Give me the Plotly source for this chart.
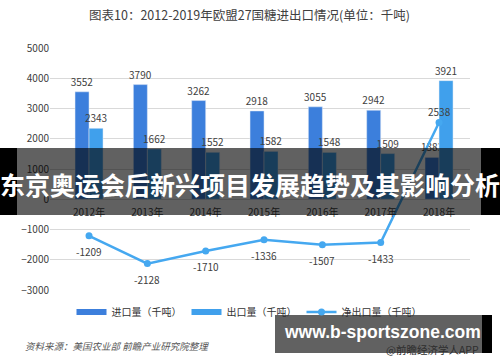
import plotly.graph_objects as go

years = ["2012年", "2013年", "2014年", "2015年", "2016年", "2017年", "2018年"]
imports = [3552, 3790, 3262, 2918, 3055, 2942, 1383]
exports = [2343, 1662, 1552, 1582, 1548, 1509, 3921]
net_exports = [-1209, -2128, -1710, -1336, -1507, -1433, 2538]

C_IMP = "#3c7fdc"
C_EXP = "#40a0ec"
C_NET = "#45a8f0"
TXT = "#404040"
FONT = "Noto Sans CJK SC, Microsoft YaHei, sans-serif"

W, H = 500, 362
L, R, T, B = 50, 30, 48, 72
PW, PH = W - L - R, H - T - B


def px(x):
    return (x - L) / PW


def py(y):
    return (H - B - y) / PH


fig = go.Figure()
fig.add_trace(go.Bar(x=years, y=imports, name="进口量（千吨）", marker_color=C_IMP,
                     text=imports, textposition="outside", constraintext="none",
                     textfont=dict(size=10, color=TXT), cliponaxis=False, showlegend=False))
fig.add_trace(go.Bar(x=years, y=exports, name="出口量（千吨）", marker_color=C_EXP,
                     text=exports, textposition="outside", constraintext="none",
                     textfont=dict(size=10, color=TXT), cliponaxis=False, showlegend=False))
# legend-only entries with wide swatches
fig.add_trace(go.Scatter(x=[None], y=[None], mode="lines", name="进口量（千吨）",
                         line=dict(color=C_IMP, width=6)))
fig.add_trace(go.Scatter(x=[None], y=[None], mode="lines", name="出口量（千吨）",
                         line=dict(color=C_EXP, width=6)))
fig.add_trace(go.Scatter(x=years, y=net_exports, name="净出口量（千吨）",
                         mode="lines+markers",
                         line=dict(color=C_NET, width=2.5),
                         marker=dict(color=C_NET, size=7), cliponaxis=False))

fig.update_layout(
    width=W, height=H, margin=dict(l=L, r=R, t=T, b=B),
    paper_bgcolor="white", plot_bgcolor="white",
    font=dict(family=FONT, color=TXT, size=10),
    barmode="group", bargap=0.52, bargroupgap=0,
    xaxis=dict(type="category", range=[-0.669, 6.531], anchor="free", position=0.375,
               showgrid=False, showline=False, ticks="", zeroline=False,
               ticklabelstandoff=6,
               tickfont=dict(size=10, color=TXT)),
    yaxis=dict(range=[-3000, 5000], dtick=1000, gridcolor="#d9d9d9", gridwidth=1,
               zeroline=True, zerolinecolor="#d9d9d9", zerolinewidth=1,
               ticks="", tickfont=dict(size=10, color=TXT)),
    legend=dict(orientation="h", x=px(249), xanchor="center", y=py(312), yanchor="middle",
                font=dict(size=10, color="#333"), itemwidth=30, bgcolor="rgba(0,0,0,0)",
                traceorder="normal"),
    showlegend=True,
)

shapes = []
# middle banner
shapes.append(dict(type="rect", xref="paper", yref="paper", layer="above", line_width=0,
                   x0=px(0), x1=px(17), y0=py(148), y1=py(215), fillcolor="black"))
shapes.append(dict(type="rect", xref="paper", yref="paper", layer="above", line_width=0,
                   x0=px(481), x1=px(500), y0=py(148), y1=py(215), fillcolor="black"))
shapes.append(dict(type="rect", xref="paper", yref="paper", layer="above", line_width=0,
                   x0=px(17), x1=px(481), y0=py(148), y1=py(215), fillcolor="rgba(0,0,0,0.62)"))
# bottom-right watermark box
shapes.append(dict(type="rect", xref="paper", yref="paper", layer="above", line_width=0,
                   x0=px(275), x1=px(482), y0=py(315), y1=py(353), fillcolor="rgba(0,0,0,0.62)"))
shapes.append(dict(type="rect", xref="paper", yref="paper", layer="above", line_width=0,
                   x0=px(482), x1=px(492), y0=py(315), y1=py(353), fillcolor="black"))
fig.update_layout(shapes=shapes)

ann = []
# net-export data labels (below points, above for positive value)
for yr, v in zip(years, net_exports):
    ann.append(dict(x=yr, y=v, xref="x", yref="y", text=str(v), showarrow=False,
                    xanchor="center", yanchor="middle",
                    yshift=(11 if v > 0 else -16),
                    font=dict(size=10, color=TXT)))
ann.append(dict(text="图表10：2012-2019年欧盟27国糖进出口情况(单位：千吨)",
                xref="paper", yref="paper", x=px(249), y=py(15), xanchor="center",
                yanchor="middle", showarrow=False, font=dict(size=12.5, color=TXT)))
ann.append(dict(text="<i>资料来源：美国农业部 前瞻产业研究院整理</i>",
                xref="paper", yref="paper", x=px(23), y=py(346), xanchor="left",
                yanchor="middle", showarrow=False, font=dict(size=9.5, color="#555")))
ann.append(dict(text="@前瞻经济学人APP",
                xref="paper", yref="paper", x=px(481), y=py(349), xanchor="right",
                yanchor="middle", showarrow=False, font=dict(size=10.5, color="#2e2e2e")))
ann.append(dict(text="<b>东京奥运会后新兴项目发展趋势及其影响分析</b>",
                xref="paper", yref="paper", x=px(250), y=py(184), xanchor="center",
                yanchor="middle", showarrow=False,
                font=dict(size=25, color="white", family=FONT)))
ann.append(dict(text="<b>www.b-sportszone.com</b>",
                xref="paper", yref="paper", x=px(382), y=py(332), xanchor="center",
                yanchor="middle", showarrow=False,
                font=dict(size=17.5, color="white", family="Liberation Sans, Arial, sans-serif")))
fig.update_layout(annotations=ann)

fig.write_html("out.html")
